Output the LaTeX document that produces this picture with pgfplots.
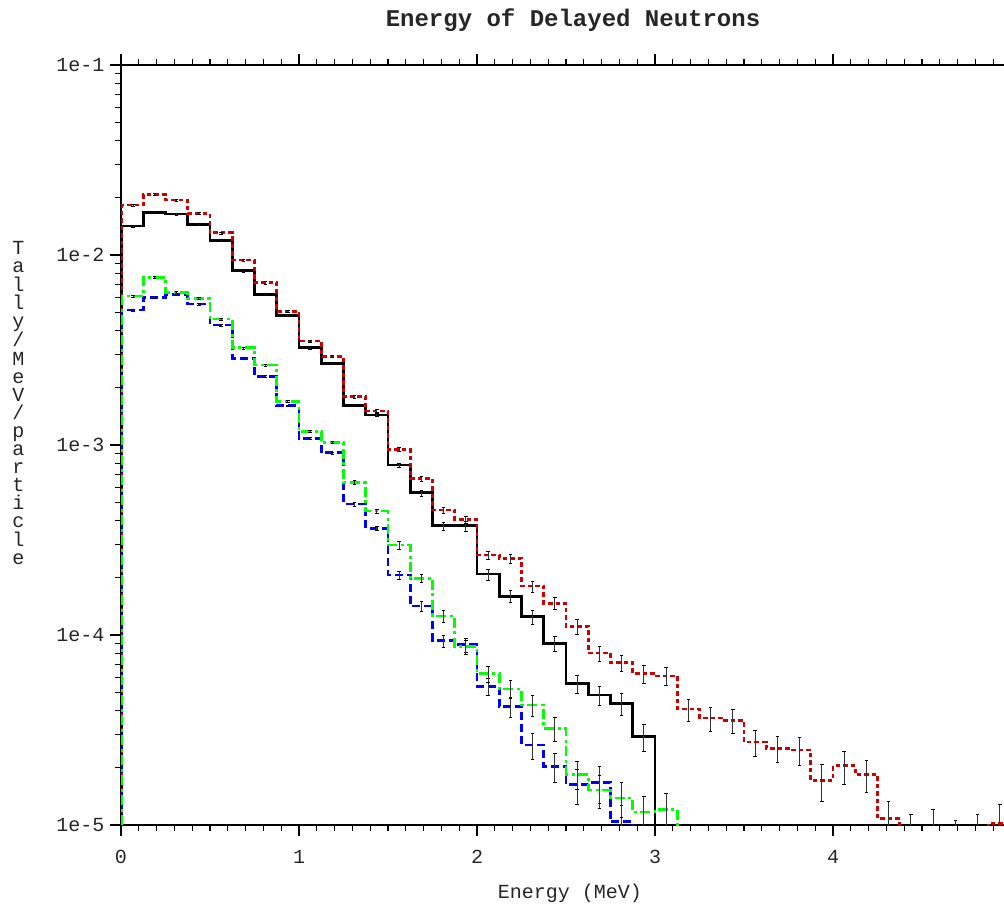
\documentclass[border=0pt]{standalone}
\usepackage{fontspec}
\setmainfont{Liberation Mono}
\usepackage{pgfplots}
\pgfplotsset{compat=1.18}
\usepackage{pgfplotstable}

\definecolor{cred}{RGB}{204,0,0}
\definecolor{cblue}{RGB}{0,0,255}
\definecolor{cgreen}{RGB}{0,255,0}

\pgfdeclareplotmark{rcap}{%
  \pgfpathmoveto{\pgfqpoint{0pt}{0pt}}%
  \pgfpathlineto{\pgfqpoint{3.5pt}{0pt}}%
  \pgfusepathqstroke}

\pgfplotstableread{
x y ep em
0.006 1e-7 0 0
0.006 1.42e-2 1.7e-4 1.7e-4
0.125 1.68e-2 2.0e-4 2.0e-4
0.25 1.64e-2 2.0e-4 2.0e-4
0.375 1.45e-2 1.8e-4 1.8e-4
0.5 1.19e-2 1.4e-4 1.4e-4
0.625 8.26e-3 1.0e-4 1.0e-4
0.75 6.2e-3 7.5e-5 7.5e-5
0.875 4.8e-3 5.8e-5 5.8e-5
1.0 3.25e-3 3.9e-5 3.9e-5
1.125 2.69e-3 3.3e-5 3.3e-5
1.25 1.62e-3 2.9e-5 2.9e-5
1.375 1.44e-3 2.6e-5 2.6e-5
1.5 7.85e-4 1.9e-5 1.9e-5
1.625 5.61e-4 2.0e-5 2.0e-5
1.75 3.76e-4 1.8e-5 1.8e-5
1.875 3.76e-4 2.3e-5 2.3e-5
2.0 2.09e-4 1.4e-5 1.4e-5
2.125 1.60e-4 1.17e-5 1.17e-5
2.25 1.25e-4 1.06e-5 1.06e-5
2.375 9.03e-5 7.7e-6 7.7e-6
2.5 5.54e-5 6.0e-6 6.0e-6
2.625 4.83e-5 5.8e-6 5.8e-6
2.75 4.37e-5 5.8e-6 5.8e-6
2.875 2.92e-5 4.6e-6 4.6e-6
3.0 1e-7 0 0
}\blackdata

\pgfplotstableread{
x y ep em
0.006 1e-7 0 0
0.006 1.83e-2 2.2e-4 2.2e-4
0.125 2.08e-2 2.5e-4 2.5e-4
0.25 1.95e-2 2.3e-4 2.3e-4
0.375 1.65e-2 2.0e-4 2.0e-4
0.5 1.31e-2 1.6e-4 1.6e-4
0.625 9.4e-3 1.1e-4 1.1e-4
0.75 7.15e-3 8.7e-5 8.7e-5
0.875 5.04e-3 6.1e-5 6.1e-5
1.0 3.53e-3 4.3e-5 4.3e-5
1.125 2.93e-3 3.6e-5 3.6e-5
1.25 1.80e-3 3.2e-5 3.2e-5
1.375 1.51e-3 2.7e-5 2.7e-5
1.5 9.49e-4 2.3e-5 2.3e-5
1.625 6.65e-4 2.0e-5 2.0e-5
1.75 4.55e-4 1.6e-5 1.6e-5
1.875 4.06e-4 1.7e-5 1.7e-5
2.0 2.64e-4 1.3e-5 1.3e-5
2.125 2.53e-4 1.4e-5 1.4e-5
2.25 1.81e-4 1.2e-5 1.2e-5
2.375 1.47e-4 1.07e-5 1.07e-5
2.5 1.11e-4 1.0e-5 1.0e-5
2.625 8.05e-5 7.3e-6 7.3e-6
2.75 7.15e-5 7.2e-6 7.2e-6
2.875 6.28e-5 6.8e-6 6.8e-6
3.0 6.1e-5 6.6e-6 6.6e-6
3.125 4.07e-5 5.4e-6 5.4e-6
3.25 3.65e-5 5.3e-6 5.3e-6
3.375 3.54e-5 5.1e-6 5.1e-6
3.5 2.74e-5 4.3e-6 4.3e-6
3.625 2.53e-5 4.0e-6 4.0e-6
3.75 2.48e-5 4.2e-6 4.2e-6
3.875 1.71e-5 3.7e-6 3.7e-6
4.0 2.05e-5 4.0e-6 4.0e-6
4.125 1.84e-5 3.6e-6 3.6e-6
4.25 1.08e-5 2.5e-6 2.5e-6
4.375 4e-6 7.4e-6 2e-6
4.5 4e-6 8.1e-6 2e-6
4.625 4e-6 6.6e-6 2e-6
4.75 4e-6 7.4e-6 2e-6
4.875 1.02e-5 2.7e-6 2.7e-6
5.0 1e-7 0 0
}\reddata

\pgfplotstableread{
x y ep em
0.006 1e-7 0 0
0.006 5.14e-3 6.2e-5 6.2e-5
0.125 5.98e-3 7.2e-5 7.2e-5
0.25 6.2e-3 7.4e-5 7.4e-5
0.375 5.52e-3 6.6e-5 6.6e-5
0.5 4.28e-3 5.1e-5 5.1e-5
0.625 2.86e-3 3.4e-5 3.4e-5
0.75 2.29e-3 2.7e-5 2.7e-5
0.875 1.61e-3 1.9e-5 1.9e-5
1.0 1.08e-3 1.3e-5 1.3e-5
1.125 9.1e-4 1.1e-5 1.1e-5
1.25 4.89e-4 1.2e-5 1.2e-5
1.375 3.64e-4 8.7e-6 8.7e-6
1.5 2.07e-4 9.9e-6 9.9e-6
1.625 1.42e-4 8.5e-6 8.5e-6
1.75 9.34e-5 6.8e-6 6.8e-6
1.875 8.9e-5 7.6e-6 7.6e-6
2.0 5.37e-5 5.2e-6 5.2e-6
2.125 4.2e-5 5.1e-6 5.1e-6
2.25 2.64e-5 4.2e-6 4.2e-6
2.375 2.03e-5 3.6e-6 3.6e-6
2.5 1.63e-5 3.4e-6 3.4e-6
2.625 1.68e-5 3.7e-6 3.7e-6
2.75 1.04e-5 2.3e-6 2.3e-6
2.875 1e-7 0 0
}\bluedata

\pgfplotstableread{
x y ep em
0.006 1e-7 0 0
0.006 6.08e-3 7.3e-5 7.3e-5
0.125 7.6e-3 9.1e-5 9.1e-5
0.25 6.37e-3 7.6e-5 7.6e-5
0.375 5.91e-3 7.1e-5 7.1e-5
0.5 4.6e-3 5.5e-5 5.5e-5
0.625 3.25e-3 3.9e-5 3.9e-5
0.75 2.64e-3 3.2e-5 3.2e-5
0.875 1.70e-3 2.0e-5 2.0e-5
1.0 1.18e-3 1.4e-5 1.4e-5
1.125 1.03e-3 1.2e-5 1.2e-5
1.25 6.34e-4 1.5e-5 1.5e-5
1.375 4.5e-4 1.1e-5 1.1e-5
1.5 2.98e-4 1.55e-5 1.55e-5
1.625 1.99e-4 1.03e-5 1.03e-5
1.75 1.26e-4 9.2e-6 9.2e-6
1.875 8.7e-5 7.4e-6 7.4e-6
2.0 6.28e-5 6.1e-6 6.1e-6
2.125 5.2e-5 5.7e-6 5.7e-6
2.25 4.28e-5 5.4e-6 5.4e-6
2.375 3.23e-5 4.7e-6 4.7e-6
2.5 1.85e-5 3.1e-6 3.1e-6
2.625 1.53e-5 3.0e-6 3.0e-6
2.75 1.39e-5 2.9e-6 2.9e-6
2.875 1.17e-5 2.4e-6 2.4e-6
3.0 1.21e-5 2.6e-6 2.6e-6
3.125 1e-7 0 0
}\greendata

\begin{document}
\begin{tikzpicture}
\begin{axis}[
  scale only axis,
  width=890pt, height=760pt,
  xmin=0, xmax=5,
  ymin=1e-5, ymax=1e-1,
  ymode=log,
  xtick={0,1,2,3,4,5},
  xticklabels={0,1,2,3,4,{}},
  minor x tick num=9,
  ytick={1e-5,1e-4,1e-3,1e-2,1e-1},
  yticklabels={1e-5,1e-4,1e-3,1e-2,1e-1},
  tick align=outside,
  major tick length=11pt,
  minor tick length=6pt,
  every tick/.style={black, line width=1.2pt},
  axis line style={black, line width=2pt},
  ticklabel style={font=\fontsize{20}{24}\selectfont, text=black!85},
  xticklabel style={yshift=-11pt},
  yticklabel style={xshift=-2pt},
  error bars/error bar style={draw=black!80, line width=1.1pt},
  error bars/error mark=rcap,
]
\addplot[const plot, black, line width=2.6pt] table[x=x, y=y] {\blackdata};
\addplot[const plot, cred, line width=2.6pt, dash pattern=on 4.5pt off 3pt] table[x=x, y=y] {\reddata};
\addplot[const plot, cblue, line width=2.6pt, dash pattern=on 8pt off 4pt] table[x=x, y=y] {\bluedata};
\addplot[const plot, cgreen, line width=2.6pt, dash pattern=on 10pt off 3.5pt on 3pt off 3.5pt] table[x=x, y=y] {\greendata};

\addplot[draw=none, error bars/.cd, y dir=both, y explicit]
  table[x expr=\thisrow{x}+0.0625, y=y, y error plus=ep, y error minus=em] {\blackdata};
\addplot[draw=none, error bars/.cd, y dir=both, y explicit]
  table[x expr=\thisrow{x}+0.0625, y=y, y error plus=ep, y error minus=em] {\reddata};
\addplot[draw=none, error bars/.cd, y dir=both, y explicit]
  table[x expr=\thisrow{x}+0.0625, y=y, y error plus=ep, y error minus=em] {\bluedata};
\addplot[draw=none, error bars/.cd, y dir=both, y explicit]
  table[x expr=\thisrow{x}+0.0625, y=y, y error plus=ep, y error minus=em] {\greendata};
\end{axis}

\node[anchor=base, font=\fontsize{24}{24}\selectfont\bfseries, text=black!85]
  at ([xshift=452pt, yshift=38pt]current axis.north west) {Energy of Delayed Neutrons};
\node[anchor=base, font=\fontsize{20}{24}\selectfont, text=black!85]
  at ([xshift=449pt, yshift=-73pt]current axis.south west) {Energy (MeV)};
\node[align=center, font=\fontsize{20}{18.1}\selectfont, text=black!85]
  at ([xshift=-102.5pt, yshift=-338pt]current axis.north west)
  {T\\a\\l\\l\\y\\/\\M\\e\\V\\/\\p\\a\\r\\t\\i\\c\\l\\e};

\pgfresetboundingbox
\path[use as bounding box] ([xshift=-121pt, yshift=-78pt]current axis.south west)
  rectangle ([xshift=-7pt, yshift=65pt]current axis.north east);
\end{tikzpicture}
\end{document}
